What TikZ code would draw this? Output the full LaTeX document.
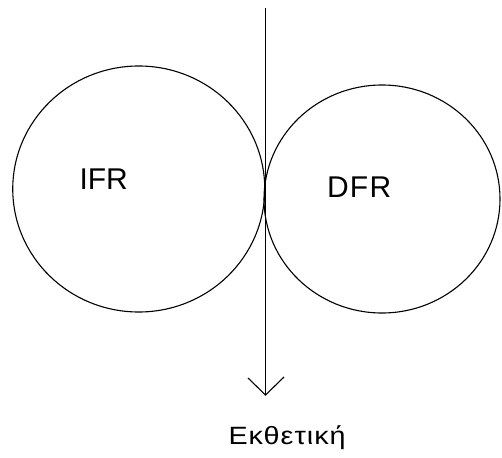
\documentclass[tikz,border=0pt]{standalone}
\usepackage{fontspec}
\setmainfont{Liberation Sans}
\begin{document}
\begin{tikzpicture}[x=1pt,y=-1pt,line width=1.1pt,
  lbl/.style={inner sep=0pt,anchor=base west,font=\fontsize{30}{36}\selectfont},
  captext/.style={inner sep=0pt,anchor=base west,font=\fontsize{25}{30}\selectfont\addfontfeature{FakeStretch=1.15,LetterSpace=4}}]
\useasboundingbox (0,0) rectangle (502,457);
\draw (138.75,189) ellipse [x radius=126, y radius=123];
\draw (382,199) ellipse [x radius=118, y radius=114];
\coordinate (top) at (265.5,8);
\coordinate (tip) at (265.5,395);
\coordinate (la) at (248,378);
\coordinate (ra) at (284,377);
\draw (top) -- (tip);
\draw (la) -- (tip) -- (ra);
\node[lbl] (ifr) at (79,189.3) {IFR};
\node[lbl,font=\fontsize{30}{36}\selectfont\addfontfeature{LetterSpace=4}] (dfr) at (326.6,197.3) {DFR};
\node[captext] (exp) at (228,444) {Εκθετική};
\end{tikzpicture}
\end{document}
